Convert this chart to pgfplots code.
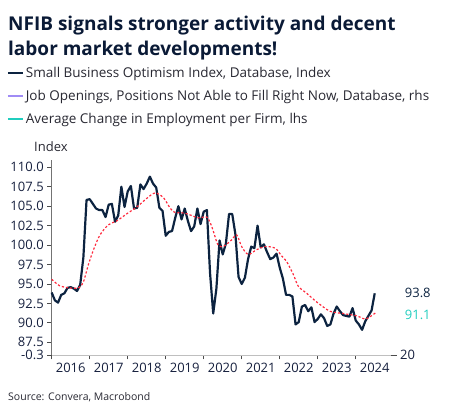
\documentclass[border=0pt]{standalone}
\usepackage{fontspec}
\setmainfont{Open Sans}
\usepackage{pgfplots}
\pgfplotsset{compat=1.18}
\definecolor{navy}{RGB}{12,35,64}
\definecolor{lav}{RGB}{160,140,245}
\definecolor{teal2}{RGB}{32,205,190}
\definecolor{red2}{RGB}{255,40,60}
\definecolor{txt}{RGB}{40,40,50}
\definecolor{tick}{RGB}{22,32,62}
\definecolor{titlec}{RGB}{10,26,54}
\begin{document}
\begin{tikzpicture}
\path[use as bounding box] (0,0) rectangle (453bp,417bp);
\node[anchor=base west,font=\fontsize{19bp}{22bp}\selectfont\bfseries,text=titlec,inner sep=0] at (8bp,386.3bp) {NFIB signals stronger activity and decent};
\node[anchor=base west,font=\fontsize{19bp}{22bp}\selectfont\bfseries,text=titlec,inner sep=0] at (8bp,361bp) {labor market developments!};
\node[anchor=west,font=\fontsize{13bp}{15bp}\selectfont,text=txt,inner sep=0] at (34bp,270.3bp) {Index};
\node[anchor=west,font=\fontsize{10.5bp}{12bp}\selectfont,text=txt,inner sep=0] at (8bp,20bp) {Source: Convera, Macrobond};
\begin{axis}[
  at={(51.7bp,62bp)}, anchor=south west,
  scale only axis, width=339bp, height=194.7bp,
  xmin=2016, xmax=2024.92, ymin=85.87, ymax=110.9,
  axis x line*=bottom, axis y line*=left,
  x axis line style={draw=black!25, line width=0.8pt},
  y axis line style={draw=black!55, line width=0.8pt},
  tick align=outside, major tick length=4.5bp,
  every tick/.style={draw=black!70, line width=0.8pt},
  xtick={2016,...,2024},
  xticklabels={2016,2017,2018,2019,2020,2021,2022,2023,2024},
  x tick label style={xshift=19bp},
  ytick={87.5,90,...,110},
  yticklabel style={/pgf/number format/.cd,fixed,fixed zerofill,precision=1},
  extra y ticks={85.87}, extra y tick labels={-0.3},
  /pgf/number format/assume math mode=true,
  tick label style={font=\fontsize{13bp}{15bp}\selectfont, text=tick},
  clip=false,
  legend style={at={(0,1)}, anchor=south west, xshift=-45bp, yshift=33bp, draw=none, fill=none,
    font=\fontsize{13.5bp}{16bp}\selectfont, text=txt, row sep=7.2bp, inner sep=0pt},
  legend cell align=left,
  legend image code/.code={\draw[#1, line width=2pt] (0bp,0bp) -- (15bp,0bp);},
]
\addplot[navy, line width=2.2pt, line join=round] table[x expr=2016+\thisrow{m}/12, y=v] {
m v
0 93.9
1 92.9
2 92.6
3 93.6
4 93.8
5 94.5
6 94.6
7 94.4
8 94.1
9 94.9
10 98.4
11 105.8
12 105.9
13 105.3
14 104.7
15 104.5
16 104.5
17 103.6
18 105.2
19 105.3
20 103.0
21 103.8
22 107.5
23 104.9
24 106.9
25 107.6
26 104.7
27 104.8
28 107.8
29 107.2
30 107.9
31 108.8
32 107.9
33 107.4
34 104.8
35 104.4
36 101.2
37 101.7
38 101.8
39 103.5
40 105.0
41 103.3
42 104.7
43 103.1
44 101.8
45 102.4
46 104.7
47 102.7
48 104.3
49 104.5
50 96.4
51 91.2
52 94.4
53 100.6
54 98.8
55 100.2
56 104.0
57 104.0
58 101.4
59 95.9
60 95.0
61 95.8
62 98.2
63 99.8
64 99.6
65 102.5
66 99.7
67 100.1
68 99.1
69 98.2
70 98.4
71 98.9
72 97.1
73 95.7
74 93.6
75 93.6
76 93.4
77 89.8
78 90.1
79 92.1
80 92.3
81 91.5
82 92.0
83 90.1
84 90.5
85 91.1
86 90.6
87 89.6
88 89.8
89 91.2
90 92.1
91 91.5
92 91.0
93 90.9
94 90.8
95 91.9
96 90.3
97 89.8
98 89.1
99 90.2
100 90.9
101 91.6
102 93.8
};
\addlegendentry{Small Business Optimism Index, Database, Index}
\addlegendimage{lav}
\addlegendentry{Job Openings, Positions Not Able to Fill Right Now, Database, rhs}
\addlegendimage{teal2}
\addlegendentry{Average Change in Employment per Firm, lhs}
\addplot[red2, line width=1.2pt, dash pattern=on 2.2pt off 2pt, smooth, forget plot] coordinates {
(2016.0,95.6) (2016.2,94.8) (2016.45,94.5) (2016.7,94.5) (2016.83,95.2) (2016.96,97.4)
(2017.1,99.4) (2017.27,101.3) (2017.49,102.6) (2017.71,103.1) (2017.97,104.0)
(2018.24,104.9) (2018.5,106.0) (2018.72,106.7) (2018.94,106.1) (2019.11,104.8)
(2019.24,104.2) (2019.51,104.1) (2019.86,103.5) (2020.08,103.6) (2020.21,102.4)
(2020.38,100.0) (2020.54,99.9) (2020.74,100.7) (2020.87,101.3) (2021.0,99.8)
(2021.17,98.8) (2021.39,99.4) (2021.61,99.8) (2021.88,99.6) (2022.05,98.6)
(2022.18,97.9) (2022.36,96.2) (2022.49,94.7) (2022.71,93.8) (2022.97,92.7)
(2023.32,91.5) (2023.67,91.2) (2024.03,90.9) (2024.24,90.5) (2024.38,90.8) (2024.55,91.4)
};
\node[anchor=west, font=\fontsize{13bp}{15bp}\selectfont, text=navy, inner sep=0] at (axis cs:2024.92,93.8) [xshift=14bp] {93.8};
\node[anchor=west, font=\fontsize{13bp}{15bp}\selectfont, text=teal2, inner sep=0] at (axis cs:2024.92,91.0) [xshift=14bp] {91.1};
\end{axis}
\begin{axis}[
  at={(51.7bp,62bp)}, anchor=south west,
  scale only axis, width=339bp, height=194.7bp,
  xmin=2016, xmax=2024.92, ymin=20, ymax=60,
  axis x line=none, axis y line*=right,
  y axis line style={draw=none},
  tick align=outside, major tick length=6bp,
  every tick/.style={draw=black!70, line width=0.8pt},
  ytick={20},
  /pgf/number format/assume math mode=true,
  tick label style={font=\fontsize{13bp}{15bp}\selectfont, text=tick},
]
\end{axis}
\end{tikzpicture}
\end{document}
